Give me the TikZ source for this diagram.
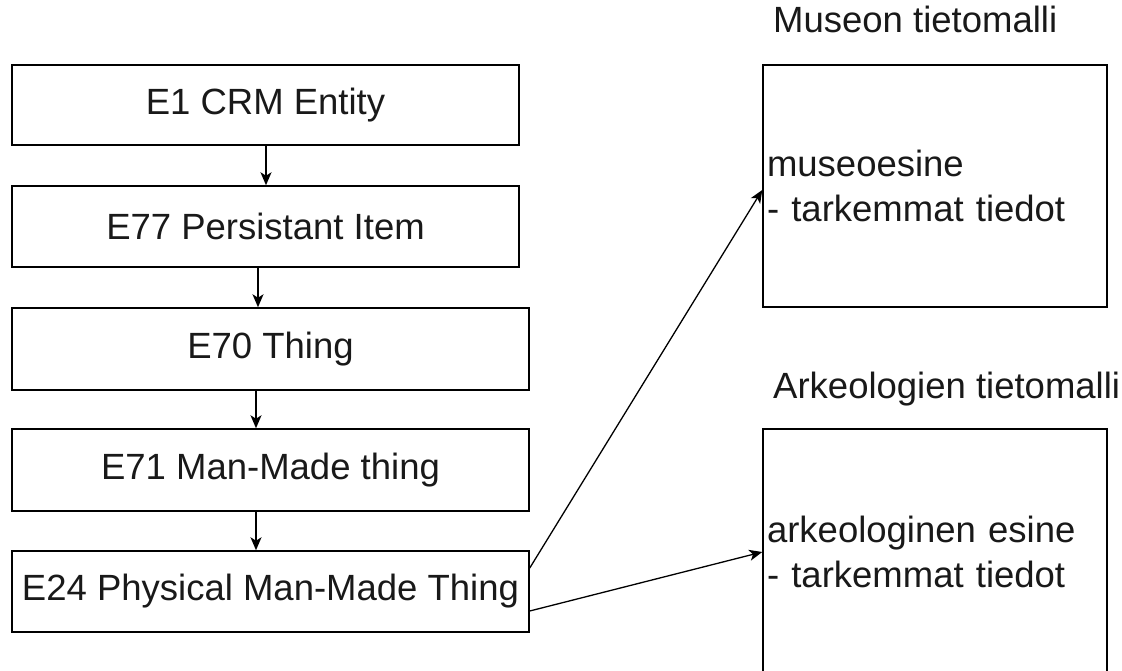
\documentclass[tikz,border=0pt]{standalone}
\usepackage{fontspec}
\setmainfont{Liberation Sans}
\usetikzlibrary{arrows.meta}
\begin{document}
\begin{tikzpicture}[x=1pt,y=-1pt,
  lbox/.style={draw=black,line width=1.5pt,rectangle,inner sep=0pt,
    font=\fontsize{36.5}{45}\selectfont,text=black!90},
  rbox/.style={draw=black,line width=1.5pt,rectangle,inner sep=4pt,
    text width=336pt,align=left,minimum height=242pt,
    font=\fontsize{36.5}{45}\selectfont,text=black!90},
  ttl/.style={anchor=base west,inner sep=0pt,font=\fontsize{36.5}{45}\selectfont,text=black!90},
  arr/.style={line width=1.3pt,draw=black,-{Stealth[length=13pt,width=11pt,inset=3.5pt]}}
]
\useasboundingbox (0,0) rectangle (1122,671);
\node[lbox,minimum width=507pt,minimum height=80pt] (b1) at (265.5,105) {E1 CRM Entity};
\node[lbox,minimum width=507pt,minimum height=81pt] (b2) at (265.5,226.5) {E77 Persistant Item};
\node[lbox,minimum width=517pt,minimum height=82pt] (b3) at (270.5,349) {E70 Thing};
\node[lbox,minimum width=517pt,minimum height=82pt] (b4) at (270.5,470) {E71 Man-Made thing};
\node[lbox,minimum width=517pt,minimum height=81pt] (b5) at (270.5,591.5) {E24 Physical Man-Made Thing};

\node[rbox] (m) at (935,186) {museoesine\\- tarkemmat tiedot};
\node[rbox,minimum height=246pt] (a) at (935,552) {arkeologinen esine\\- tarkemmat tiedot};

\node[ttl] (tm) at (773,33) {Museon tietomalli};
\node[ttl] (ta) at (773,398) {Arkeologien tietomalli};

\draw[arr] ([xshift=0.5pt]b1.south) -- ([xshift=0.5pt]b1.south |- b2.north);
\draw[arr] ([xshift=-7.5pt]b2.south) -- ([xshift=-7.5pt]b2.south |- b3.north);
\draw[arr] ([xshift=-14.5pt]b3.south) -- ([xshift=-14.5pt]b3.south |- b4.north);
\draw[arr] ([xshift=-14.5pt]b4.south) -- ([xshift=-14.5pt]b4.south |- b5.north);

\draw[arr] ([yshift=23.5pt]b5.east) -- ([yshift=-4pt]m.west);
\draw[arr] ([yshift=-19.5pt]b5.east) -- (a.west);
\end{tikzpicture}
\end{document}
